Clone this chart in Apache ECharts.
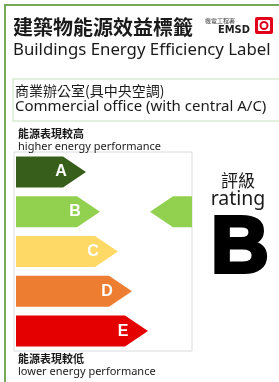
<!DOCTYPE html>
<html>
<head>
<meta charset="utf-8">
<script src="https://cdn.jsdelivr.net/npm/echarts@6/dist/echarts.min.js"></script>
<style>
  html, body { margin: 0; padding: 0; background: #fff; }
  #main { width: 279px; height: 382px; }
</style>
</head>
<body>
<div id="main"></div>
<script>
// 能效等級
const grades = ['A', 'B', 'C', 'D', 'E']
// 每級箭頭長度
const gradeLengths = [70, 84, 102, 116, 132]
const gradeColors = ['#375f1b', '#92d050', '#ffd966', '#ed7d31', '#e50000']
// 本建築評級
const rating = 'B'

const cjk = '"Noto Sans CJK TC", "Noto Sans CJK SC", sans-serif'
const latin = '"Noto Sans", "Open Sans", sans-serif'

const chart = echarts.init(document.getElementById('main'))

const txt = (text, x, y, font, extra) => ({
  type: 'text',
  x: x,
  y: y,
  style: Object.assign({
    text: text,
    font: font,
    fill: '#1a1a1a',
    textVerticalAlign: 'middle'
  }, extra || {})
})

const option = {
  animation: false,
  grid: {
    left: 14,
    top: 152,
    width: 178,
    height: 199,
    show: true,
    borderColor: '#dcdcdc',
    borderWidth: 1
  },
  xAxis: { type: 'value', min: -2, max: 176, show: false },
  yAxis: { type: 'category', data: grades, inverse: true, show: false },
  graphic: [
    // 外框
    { type: 'rect', shape: { x: 5, y: 5, width: 320, height: 420 }, style: { fill: 'none', stroke: '#76a957', lineWidth: 2 } },
    { type: 'rect', shape: { x: 13, y: 79, width: 300, height: 42 }, style: { fill: 'none', stroke: '#dbeccf', lineWidth: 1.5 } },
    txt('建築物能源效益標籤', 13, 27, 'bold 20px ' + cjk),
    txt('Buildings Energy Efficiency Label', 13, 50, '16.8px ' + latin),
    txt('機電工程署', 205, 21, '6px ' + cjk, { fill: '#444' }),
    txt('EMSD', 218, 30, 'bold 11px "DejaVu Sans Condensed", sans-serif', { fill: '#222' }),
    // 標誌
    { type: 'rect', shape: { x: 255, y: 17, width: 18, height: 17, r: 2 }, style: { fill: '#e2001a' } },
    { type: 'rect', shape: { x: 258, y: 20, width: 12, height: 11, r: 1 }, style: { fill: '#fff' } },
    { type: 'circle', shape: { cx: 264, cy: 25.5, r: 3.5 }, style: { fill: 'none', stroke: '#e2001a', lineWidth: 2 } },
    txt('商業辦公室(具中央空調)', 15, 91, '14px ' + cjk),
    txt('Commercial office (with central A/C)', 15, 107, '15px ' + latin),
    txt('能源表現較高', 18, 134, 'bold 11px ' + cjk),
    txt('higher energy performance', 18, 147, '11px ' + latin),
    txt('能源表現較低', 18, 359, 'bold 11px ' + cjk),
    txt('lower energy performance', 18, 372, '11px ' + latin),
    txt('評級', 238, 181, '17px ' + cjk, { textAlign: 'center' }),
    txt('rating', 238, 199, '19.5px ' + latin, { textAlign: 'center' }),
    txt(rating, 240, 250, 'bold 80px "Liberation Sans", Arial, sans-serif', { textAlign: 'center', fill: '#000', stroke: '#000', lineWidth: 4 })
  ],
  series: [
    {
      type: 'custom',
      encode: { x: 0, y: 1 },
      data: grades.map((g, i) => [gradeLengths[i], g]),
      renderItem: (params, api) => {
        const idx = api.value(1)
        const start = api.coord([0, idx])
        const end = api.coord([api.value(0), idx])
        const h = api.size([0, 1])[1] * 0.78
        const tip = 23
        const cy = start[1]
        return {
          type: 'group',
          children: [
            {
              type: 'polygon',
              shape: {
                points: [
                  [start[0], cy - h / 2],
                  [end[0] - tip, cy - h / 2],
                  [end[0], cy],
                  [end[0] - tip, cy + h / 2],
                  [start[0], cy + h / 2]
                ]
              },
              style: { fill: gradeColors[params.dataIndex] }
            },
            {
              type: 'text',
              x: end[0] - 25,
              y: cy,
              style: {
                text: grades[params.dataIndex],
                font: 'bold 16px "Liberation Sans", Arial, sans-serif',
                fill: '#fff',
                textAlign: 'center',
                textVerticalAlign: 'middle'
              }
            }
          ]
        }
      }
    },
    {
      // 評級指示箭頭
      type: 'custom',
      encode: { x: 0, y: 1 },
      data: [[176, rating]],
      renderItem: (params, api) => {
        const idx = api.value(1)
        const right = api.coord([api.value(0), idx])
        const h = api.size([0, 1])[1] * 0.78
        const cy = right[1]
        const x0 = right[0] - 42
        return {
          type: 'polygon',
          shape: {
            points: [
              [x0, cy],
              [x0 + 23, cy - h / 2],
              [right[0], cy - h / 2],
              [right[0], cy + h / 2],
              [x0 + 23, cy + h / 2]
            ]
          },
          style: { fill: gradeColors[grades.indexOf(rating)] }
        }
      }
    }
  ]
}

chart.setOption(option)
</script>
</body>
</html>
